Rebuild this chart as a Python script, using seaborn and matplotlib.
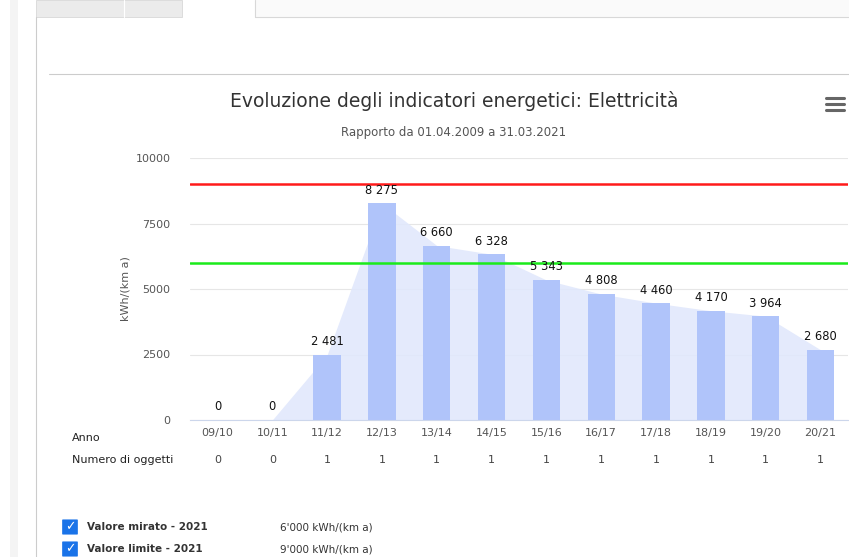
import matplotlib
matplotlib.use("Agg")
import matplotlib.pyplot as plt
import seaborn as sns
import pandas as pd
from matplotlib.patches import Rectangle, FancyBboxPatch

# data
anni = ['09/10', '10/11', '11/12', '12/13', '13/14', '14/15',
        '15/16', '16/17', '17/18', '18/19', '19/20', '20/21']
valori = [0, 0, 2481, 8275, 6660, 6328, 5343, 4808, 4460, 4170, 3964, 2680]
numero_oggetti = [0, 0, 1, 1, 1, 1, 1, 1, 1, 1, 1, 1]
valore_mirato = 6000
valore_limite = 9000

sns.set_theme(style="white")
plt.rcParams['font.family'] = ['DejaVu Sans']

df = pd.DataFrame({'Anno': anni, 'kWh': valori})

fig = plt.figure(figsize=(8.49, 5.57), dpi=100)
W, H = 849, 557

def fx(px):
    return px / W

def fy(py):
    return 1 - py / H

# page decoration (frame of the web page)
fig.patches.append(Rectangle((fx(10), 0), fx(8), 1, transform=fig.transFigure,
                             facecolor='#f4f4f4', edgecolor='none'))
fig.patches.append(Rectangle((fx(36), fy(17)), fx(146), 17 / H, transform=fig.transFigure,
                             facecolor='#ebebeb', edgecolor='#d8d8d8', lw=0.6))
fig.lines.append(plt.Line2D([fx(124), fx(124)], [fy(17), 1], transform=fig.transFigure,
                            color='#ffffff', lw=0.8))
fig.lines.append(plt.Line2D([fx(36), fx(36)], [0, fy(17)], transform=fig.transFigure,
                            color='#cccccc', lw=0.8))
fig.patches.append(Rectangle((fx(255), fy(17)), fx(594), 17 / H, transform=fig.transFigure,
                             facecolor='#fafafa', edgecolor='none'))
fig.lines.append(plt.Line2D([fx(255), fx(849)], [fy(17), fy(17)], transform=fig.transFigure,
                            color='#d8d8d8', lw=0.8))
fig.lines.append(plt.Line2D([fx(255), fx(255)], [fy(17), 1], transform=fig.transFigure,
                            color='#d8d8d8', lw=0.8))
fig.lines.append(plt.Line2D([fx(49), fx(849)], [fy(74), fy(74)], transform=fig.transFigure,
                            color='#cccccc', lw=0.8))

ax = fig.add_axes([fx(190), fy(420), fx(848 - 190), (420 - 158) / H])

pos = list(range(len(anni)))
ax.fill_between([-0.5] + pos, [0] + valori, color='#e1e8fc', alpha=0.9, lw=0, zorder=1)
sns.barplot(data=df, x='Anno', y='kWh', color='#b0c4fa', saturation=1, width=0.5,
            linewidth=0, ax=ax, zorder=2)

ax.axhline(valore_limite, color='#ff1a1a', lw=1.8, zorder=3)
ax.axhline(valore_mirato, color='#1aeb1a', lw=1.8, zorder=3)

for i, v in enumerate(valori):
    ax.text(i, v + 250, f"{v:,}".replace(',', ' '), ha='center', va='bottom',
            fontsize=8.3, color='#111111', zorder=4)

ax.set_ylim(0, 10000)
ax.set_xlim(-0.5, len(anni) - 0.5)
ax.set_yticks([0, 2500, 5000, 7500, 10000])
ax.yaxis.grid(True, color='#e6e6e6', lw=0.8)
ax.set_axisbelow(True)
ax.tick_params(axis='y', labelsize=8, labelcolor='#555555', length=0, pad=14)
ax.tick_params(axis='x', labelsize=8, labelcolor='#555555', length=0, pad=6)
ax.set_xlabel('')
ax.set_ylabel('kWh/(km a)', fontsize=8, color='#555555', labelpad=4)
for s in ['top', 'right', 'left']:
    ax.spines[s].set_visible(False)
ax.spines['bottom'].set_color('#ccd6eb')
ax.spines['bottom'].set_linewidth(0.8)

# title, subtitle, menu icon
fig.text(fx(454), fy(101), 'Evoluzione degli indicatori energetici: Elettricità',
         ha='center', va='center', fontsize=13.5, color='#333333')
fig.text(fx(454), fy(133), 'Rapporto da 01.04.2009 a 31.03.2021',
         ha='center', va='center', fontsize=8.5, color='#555555')
for yy in (98, 104, 110):
    fig.lines.append(plt.Line2D([fx(826), fx(844)], [fy(yy), fy(yy)],
                                transform=fig.transFigure, color='#666666', lw=2.2))

# table rows under the axis
fig.text(fx(72), fy(438), 'Anno', ha='left', va='center', fontsize=8, color='#222222')
fig.text(fx(72), fy(460), 'Numero di oggetti', ha='left', va='center', fontsize=8,
         color='#222222')
for i, n in enumerate(numero_oggetti):
    ax.text(i, -0.152, str(n), transform=ax.get_xaxis_transform(), ha='center',
            va='center', fontsize=8, color='#444444')

# legend with checkboxes
righe = [('Valore mirato - 2021', valore_mirato), ('Valore limite - 2021', valore_limite)]
for k, (nome, val) in enumerate(righe):
    yy = 527 + 22 * k
    fig.patches.append(FancyBboxPatch((fx(63), fy(yy + 7)), fx(14), 14 / H,
                                      boxstyle='round,pad=0.001', transform=fig.transFigure,
                                      facecolor='#1a73e8', edgecolor='none'))
    fig.text(fx(70), fy(yy), '✓', ha='center', va='center', fontsize=9, color='white',
             fontweight='bold')
    fig.text(fx(87), fy(yy), nome, ha='left', va='center', fontsize=7.5,
             fontweight='bold', color='#333333')
    fig.text(fx(280), fy(yy), f"{val:,}".replace(',', "'") + ' kWh/(km a)', ha='left',
             va='center', fontsize=7.5, color='#333333')

fig.savefig('out.png', dpi=100)
